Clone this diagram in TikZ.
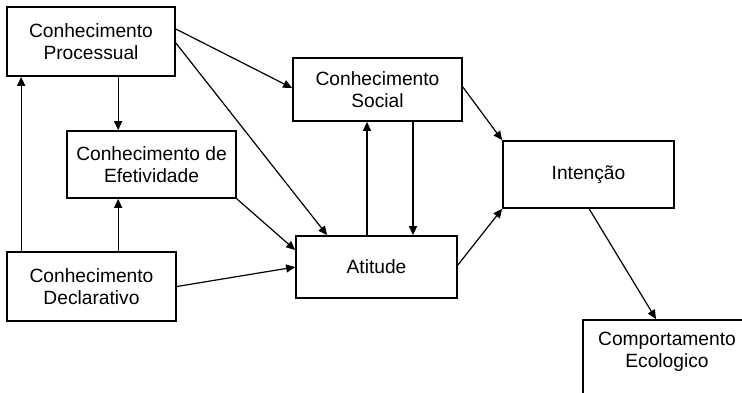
\documentclass[tikz,border=0pt]{standalone}
\usepackage{fontspec}
\setmainfont{Liberation Sans}
\usetikzlibrary{arrows.meta,calc}
\begin{document}
\begin{tikzpicture}[x=1pt,y=-1pt,
  box/.style={draw, line width=1.7pt, align=center, inner sep=0pt,
    font=\fontsize{19.2}{22}\selectfont},
  txt/.style={align=center, inner sep=0pt, font=\fontsize{19.2}{22}\selectfont},
  arr/.style={line width=1.2pt, -{Triangle[length=9pt,width=8pt]}}]
\useasboundingbox (0,0) rectangle (742,392);
\node[box, minimum width=168pt, minimum height=69pt] (proc) at (91,41.5) {Conhecimento\\Processual};
\node[box, minimum width=169pt, minimum height=67pt] (efet) at (151.5,164.5) {Conhecimento de\\Efetividade};
\node[box, minimum width=169pt, minimum height=69pt] (decl) at (91.5,286.5) {Conhecimento\\Declarativo};
\node[box, minimum width=169pt, minimum height=63pt] (soc) at (377.5,89.5) {Conhecimento\\Social};
\node[box, minimum width=161pt, minimum height=62pt] (atit) at (376.5,267) {Atitude};
\node[box, minimum width=171pt, minimum height=67pt] (inte) at (588.5,174.5) {Intenção};
\node[box, anchor=north west, minimum width=180pt, minimum height=100pt] (comp) at (582,319) {};
\node[txt] (comptxt) at (667,352) {Comportamento\\Ecologico};

\draw[arr] ($(decl.north west)+(15,0)$) -- ($(proc.south west)+(15,0)$);
\draw[arr] ($(proc.south west)+(112,0)$) -- ($(efet.north west)+(52,0)$);
\draw[arr] ($(decl.north west)+(112,0)$) -- ($(efet.south west)+(52,0)$);
\draw[arr] ($(proc.east)+(0,-12.5)$) -- ($(soc.west)+(0,-1.5)$);
\draw[arr] ($(proc.east)+(0,1.5)$) -- ($(atit.north west)+(32,0)$);
\draw[arr] (efet.south east) -- ($(atit.west)+(0,-17)$);
\draw[arr] (decl.east) -- (atit.west);
\draw[arr] ($(atit.north)+(-9.5,0)$) -- ($(soc.south)+(-10.5,0)$);
\draw[arr] ($(soc.south)+(35.5,0)$) -- ($(atit.north)+(36.5,0)$);
\draw[arr] ($(soc.east)+(0,-2.5)$) -- (inte.north west);
\draw[arr] ($(atit.east)+(0,-2)$) -- (inte.south west);
\draw[arr] ($(inte.south west)+(87,0)$) -- ($(comp.north west)+(74,0)$);
\end{tikzpicture}
\end{document}
